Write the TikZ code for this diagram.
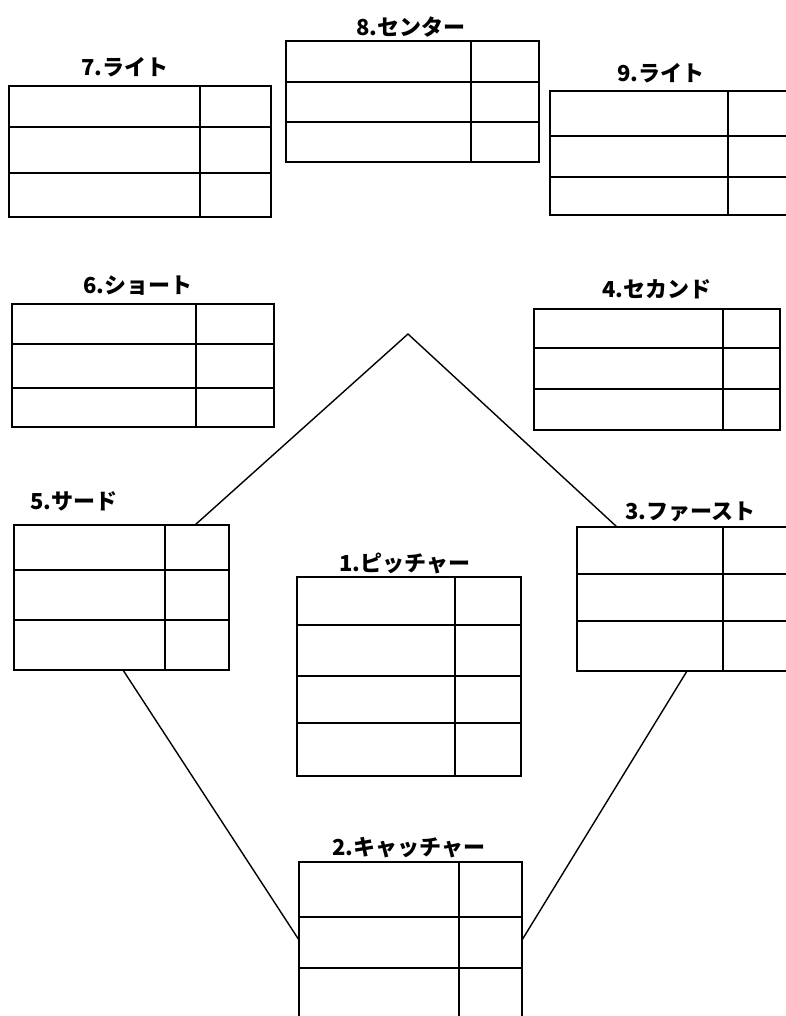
\documentclass[tikz,border=0pt]{standalone}
\usepackage{fontspec}
\newfontfamily\jpfont{Noto Sans CJK JP}
\usetikzlibrary{positioning}

\begin{document}
\begin{tikzpicture}[x=1pt,y=-1pt,
  card/.style={draw,fill=white,line width=1.7pt,inner sep=0pt,outer sep=0pt},
  rule/.style={line width=1.6pt},
  field/.style={line width=1.4pt},
  plabel/.style={font=\jpfont\bfseries\fontsize{22}{26}\selectfont,inner sep=0pt}]
\useasboundingbox (0,0) rectangle (786,1016);
\clip (0,0) rectangle (786,1016);
% outfield
\node[card,minimum width=262pt,minimum height=131pt] (t7) at (140,151.5) {};
\node[card,minimum width=253pt,minimum height=121pt] (t8) at (412.5,101.5) {};
\node[card,minimum width=250pt,minimum height=124pt] (t9) at (675,153) {};
% infield
\node[card,minimum width=262pt,minimum height=123pt] (t6) at (143,365.5) {};
\node[card,minimum width=246pt,minimum height=121pt] (t4) at (657,369.5) {};
\node[card,minimum width=215pt,minimum height=145pt] (t5) at (121.5,597.5) {};
\node[card,minimum width=223pt,minimum height=144pt] (t3) at (688.5,599) {};
\node[card,minimum width=224pt,minimum height=199pt] (t1) at (409,676.5) {};
\node[card,minimum width=223pt,minimum height=168pt] (t2) at (410.5,946) {};
% labels
\node[plabel] (l7) at (125,67) {7.ライト};
\node[plabel] (l8) at (411,27) {8.センター};
\node[plabel] (l9) at (661,73) {9.ライト};
\node[plabel] (l6) at (138,286) {6.ショート};
\node[plabel] (l4) at (657,289) {4.セカンド};
\node[plabel] (l5) at (74,501) {5.サード};
\node[plabel] (l3) at (690,512) {3.ファースト};
\node[plabel] (l1) at (405,563) {1.ピッチャー};
\node[plabel] (l2) at (409,848) {2.キャッチャー};
% inner rules
\draw[rule] (t7.north -| 200,0) -- (t7.south -| 200,0);
\foreach \y in {127,173} \draw[rule] (t7.west |- 0,\y) -- (t7.east |- 0,\y);
\draw[rule] (t8.north -| 471,0) -- (t8.south -| 471,0);
\foreach \y in {82,122} \draw[rule] (t8.west |- 0,\y) -- (t8.east |- 0,\y);
\draw[rule] (t9.north -| 728,0) -- (t9.south -| 728,0);
\foreach \y in {136,177} \draw[rule] (t9.west |- 0,\y) -- (t9.east |- 0,\y);
\draw[rule] (t6.north -| 196,0) -- (t6.south -| 196,0);
\foreach \y in {344,388} \draw[rule] (t6.west |- 0,\y) -- (t6.east |- 0,\y);
\draw[rule] (t4.north -| 723,0) -- (t4.south -| 723,0);
\foreach \y in {348,389} \draw[rule] (t4.west |- 0,\y) -- (t4.east |- 0,\y);
\draw[rule] (t5.north -| 165,0) -- (t5.south -| 165,0);
\foreach \y in {570,620} \draw[rule] (t5.west |- 0,\y) -- (t5.east |- 0,\y);
\draw[rule] (t3.north -| 723,0) -- (t3.south -| 723,0);
\foreach \y in {574,621} \draw[rule] (t3.west |- 0,\y) -- (t3.east |- 0,\y);
\draw[rule] (t1.north -| 455,0) -- (t1.south -| 455,0);
\foreach \y in {625,676,723} \draw[rule] (t1.west |- 0,\y) -- (t1.east |- 0,\y);
\draw[rule] (t2.north -| 459,0) -- (t2.south -| 459,0);
\foreach \y in {917,968} \draw[rule] (t2.west |- 0,\y) -- (t2.east |- 0,\y);
% diamond
\coordinate (second) at (408,334);
\draw[field] (t5.north -| 195,0) -- (second) -- (t3.north -| 617,0);
\draw[field] (t5.south -| 123,0) -- (t2.west |- 0,940);
\draw[field] (t3.south -| 687,0) -- (t2.east |- 0,940);
\end{tikzpicture}
\end{document}
